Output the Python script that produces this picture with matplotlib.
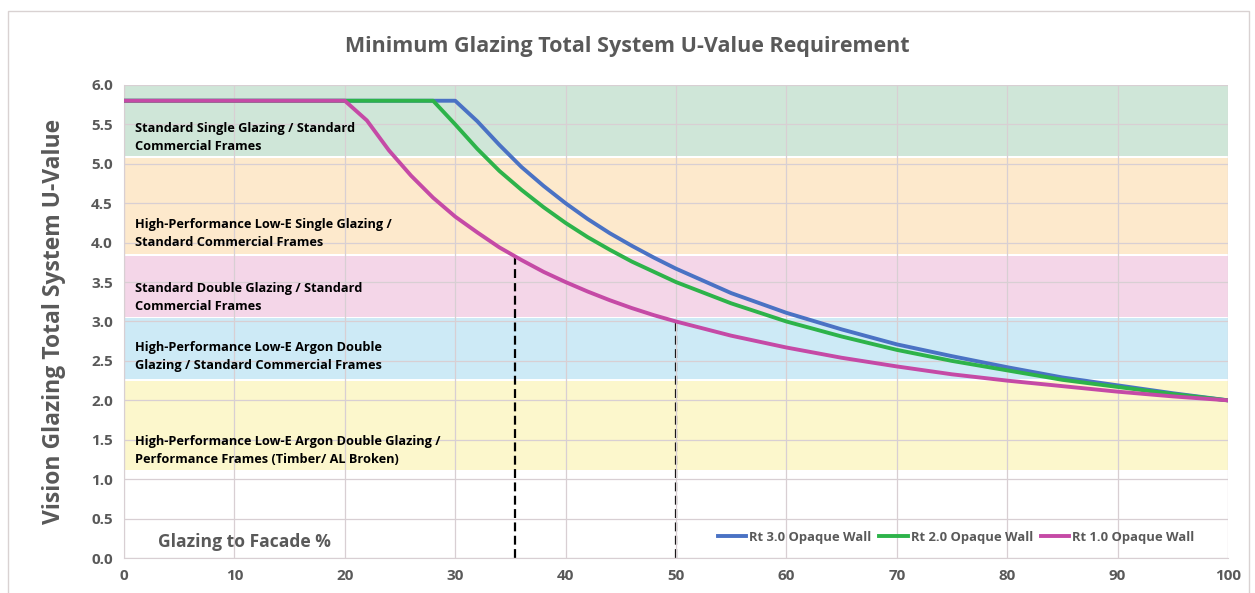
import matplotlib
matplotlib.use("Agg")
import matplotlib.pyplot as plt
from matplotlib.patches import Rectangle

plt.rcParams['font.family'] = ['Open Sans', 'DejaVu Sans']

# glazing to facade %, and U-value
pct_rt1 = [0, 20, 22, 24, 26, 28, 30, 32, 34, 36, 38, 40, 42, 44, 46, 48, 50,
           55, 60, 65, 70, 75, 80, 85, 90, 95, 100]
u_rt1 = [5.8, 5.8, 5.55, 5.17, 4.85, 4.57, 4.33, 4.13, 3.94, 3.78, 3.63, 3.5,
         3.38, 3.27, 3.17, 3.08, 3.0, 2.82, 2.67, 2.54, 2.43, 2.33, 2.25, 2.18,
         2.11, 2.05, 2.0]

pct_rt2 = [0, 28, 30, 32, 34, 36, 38, 40, 42, 44, 46, 48, 50,
           55, 60, 65, 70, 75, 80, 85, 90, 95, 100]
u_rt2 = [5.8, 5.8, 5.5, 5.19, 4.91, 4.67, 4.45, 4.25, 4.07, 3.91, 3.76, 3.63,
         3.5, 3.23, 3.0, 2.81, 2.64, 2.5, 2.38, 2.26, 2.17, 2.08, 2.0]

pct_rt3 = [0, 30, 32, 34, 36, 38, 40, 42, 44, 46, 48, 50,
           55, 60, 65, 70, 75, 80, 85, 90, 95, 100]
u_rt3 = [5.8, 5.8, 5.54, 5.24, 4.96, 4.72, 4.5, 4.3, 4.12, 3.96, 3.81, 3.67,
         3.36, 3.11, 2.9, 2.71, 2.56, 2.42, 2.29, 2.19, 2.09, 2.0]

# glazing system bands (bottom, top, label)
band_bottom = [5.1, 3.85, 3.06, 2.27, 1.12]
band_top = [6.0, 5.07, 3.83, 3.04, 2.25]
band_labels = [
    "Standard Single Glazing / Standard\nCommercial Frames",
    "High-Performance Low-E Single Glazing /\nStandard Commercial Frames",
    "Standard Double Glazing / Standard\nCommercial Frames",
    "High-Performance Low-E Argon Double\nGlazing / Standard Commercial Frames",
    "High-Performance Low-E Argon Double Glazing /\nPerformance Frames (Timber/ AL Broken)",
]
band_label_y = [5.34, 4.11, 3.31, 2.56, 1.36]
band_colors = ["#cfe6d8", "#fde9cc", "#f4d6e8", "#cdeaf6", "#fcf7cc"]

# reference points (dashed drop lines)
ref_x = [35.4, 50]
ref_u = [3.83, 3.0]

gray = "#595959"

fig = plt.figure(figsize=(12.55, 5.93), dpi=100)
fig.patches.append(Rectangle((0.006, -0.01), 0.989, 0.992, transform=fig.transFigure,
                             fill=False, edgecolor="#d9d2d2", linewidth=1))
ax = fig.add_axes([0.0988, 0.059, 0.8797, 0.7977])

for b, t, c, lab, ly in zip(band_bottom, band_top, band_colors, band_labels, band_label_y):
    ax.axhspan(b, t, xmin=0, xmax=1, color=c, zorder=0, linewidth=0)
    ax.text(1, ly, lab, fontsize=9.2, fontweight="bold", va="center", ha="left",
            color="black", linespacing=1.5, zorder=3)

for xv, uv in zip(ref_x, ref_u):
    ax.plot([xv, xv], [0, uv], color="black", linestyle=(0, (4, 2)), linewidth=1.6, zorder=2)

ax.plot(pct_rt3, u_rt3, color="#4a72c4", linewidth=2.8, label="Rt 3.0 Opaque Wall", zorder=4)
ax.plot(pct_rt2, u_rt2, color="#2db34a", linewidth=2.8, label="Rt 2.0 Opaque Wall", zorder=4)
ax.plot(pct_rt1, u_rt1, color="#c54aa6", linewidth=2.8, label="Rt 1.0 Opaque Wall", zorder=4)

ax.set_xlim(0, 100)
ax.set_ylim(0, 6.0)
ax.set_xticks(range(0, 101, 10))
ax.set_yticks([i * 0.5 for i in range(13)])
ax.set_yticklabels([f"{i * 0.5:.1f}" for i in range(13)])
ax.grid(True, color="#d8cfd3", linewidth=0.9, zorder=1)
ax.set_axisbelow(False)
for gl in ax.get_xgridlines() + ax.get_ygridlines():
    gl.set_zorder(1)
for s in ["top", "right"]:
    ax.spines[s].set_visible(False)
for s in ["left", "bottom"]:
    ax.spines[s].set_color("#d8cfd3")
ax.tick_params(length=0, labelsize=11, labelcolor=gray, pad=8)
for lbl in ax.get_xticklabels() + ax.get_yticklabels():
    lbl.set_fontweight("bold")

ax.set_ylabel("Vision Glazing Total System U-Value", fontsize=16.5, fontweight="bold",
              color=gray, labelpad=18)
fig.text(0.5, 0.922, "Minimum Glazing Total System U-Value Requirement", fontsize=15.5,
         fontweight="bold", color=gray, ha="center", va="center")
ax.text(3.1, 0.2, "Glazing to Facade %", fontsize=12.6, fontweight="bold", color=gray,
        va="center", zorder=3)

leg = ax.legend(loc="lower right", bbox_to_anchor=(0.98, 0.005), ncol=3, frameon=False,
                handlelength=2.2, handletextpad=0.2, columnspacing=0.6,
                prop={"weight": "bold", "size": 9.4})
for t in leg.get_texts():
    t.set_color(gray)

fig.savefig("out.png", dpi=100)
